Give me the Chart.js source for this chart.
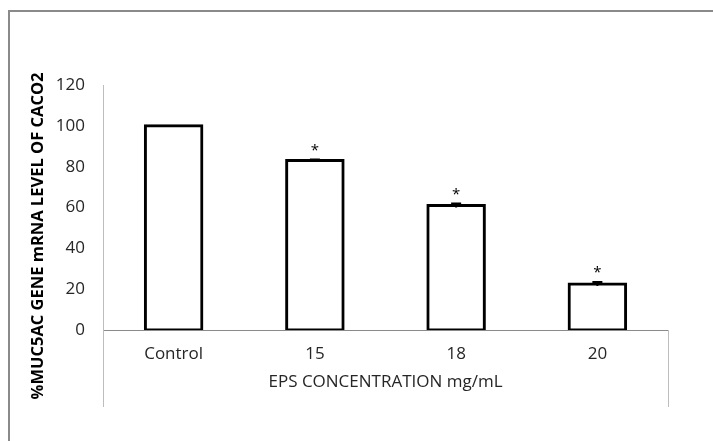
<!DOCTYPE html>
<html>
<head>
<meta charset="utf-8">
<script src="https://cdn.jsdelivr.net/npm/chart.js@4/dist/chart.umd.min.js"></script>
<style>
html,body{margin:0;padding:0;background:#fff;}
#wrap{width:713px;height:441px;position:relative;}
</style>
</head>
<body>
<div id="wrap"><canvas id="c" width="713" height="441"></canvas></div>
<script>
const categories = ['Control', '15', '18', '20'];
const values = [100, 83, 61, 22.5];
const errors = [0, 0.5, 1, 1];
const marks = ['', '*', '*', '*'];
const yTicks = [0, 20, 40, 60, 80, 100, 120];
const yTitle = '%MUC5AC GENE mRNA LEVEL OF CACO2';
const xTitle = 'EPS CONCENTRATION mg/mL';

const FONT = '"Open Sans", "Noto Sans", sans-serif';
const TEXT = '#262626';

const decor = {
  id: 'decor',
  beforeDraw(chart) {
    const ctx = chart.ctx;
    ctx.save();
    ctx.fillStyle = '#fff';
    ctx.fillRect(0, 0, chart.width, chart.height);
    ctx.strokeStyle = '#8a8a8a';
    ctx.lineWidth = 2;
    ctx.beginPath();
    ctx.moveTo(9, 441);
    ctx.lineTo(9, 11);
    ctx.lineTo(713, 11);
    ctx.stroke();
    ctx.restore();
  },
  afterDraw(chart) {
    const ctx = chart.ctx;
    const a = chart.chartArea;
    const xs = chart.scales.x;
    const ys = chart.scales.y;
    ctx.save();
    ctx.strokeStyle = '#bdbdbd';
    ctx.lineWidth = 1;
    ctx.beginPath();
    ctx.moveTo(Math.round(a.left) + 0.5, a.bottom);
    ctx.lineTo(Math.round(a.left) + 0.5, xs.bottom);
    ctx.moveTo(Math.round(a.right) + 0.5, a.bottom);
    ctx.lineTo(Math.round(a.right) + 0.5, xs.bottom);
    ctx.stroke();
    const meta = chart.getDatasetMeta(0);
    ctx.strokeStyle = '#000';
    ctx.lineWidth = 2;
    meta.data.forEach((bar, i) => {
      const e = errors[i];
      if (!e) return;
      const yt = ys.getPixelForValue(values[i] + e);
      const yb = ys.getPixelForValue(values[i] - e);
      ctx.beginPath();
      ctx.moveTo(bar.x, yt);
      ctx.lineTo(bar.x, yb);
      ctx.moveTo(bar.x - 5, yt);
      ctx.lineTo(bar.x + 5, yt);
      ctx.stroke();
    });
    ctx.fillStyle = '#000';
    ctx.font = '15px ' + FONT;
    ctx.textAlign = 'center';
    ctx.textBaseline = 'middle';
    meta.data.forEach((bar, i) => {
      if (!marks[i]) return;
      const y = ys.getPixelForValue(values[i] + errors[i]);
      ctx.fillText(marks[i], bar.x, y - 9);
    });
    ctx.save();
    ctx.translate(38, 236);
    ctx.rotate(-Math.PI / 2);
    ctx.font = 'bold 16.5px ' + FONT;
    ctx.fillStyle = '#000';
    ctx.textAlign = 'center';
    ctx.textBaseline = 'middle';
    ctx.fillText(yTitle, 0, 0);
    ctx.restore();
    ctx.restore();
  }
};

new Chart(document.getElementById('c'), {
  type: 'bar',
  data: {
    labels: categories,
    datasets: [{
      data: values,
      backgroundColor: '#ffffff',
      borderColor: '#000000',
      borderWidth: 3,
      borderSkipped: false,
      inflateAmount: 1.5,
      barPercentage: 0.4,
      categoryPercentage: 1.0
    }]
  },
  options: {
    responsive: false,
    animation: false,
    devicePixelRatio: 1,
    layout: { padding: { left: 0, right: 45, top: 85, bottom: 34 } },
    plugins: { legend: { display: false }, tooltip: { enabled: false } },
    scales: {
      x: {
        grid: { display: false, drawTicks: false },
        border: { display: true, color: '#8a8a8a', width: 1 },
        ticks: { padding: 14, color: TEXT, font: { family: FONT, size: 17 } },
        title: { display: true, text: xTitle, color: TEXT, font: { family: FONT, size: 17 }, padding: { top: 0, bottom: 15 } },
        afterFit(s) { s.height = 77; }
      },
      y: {
        min: 0, max: 120,
        afterBuildTicks(s) { s.ticks = yTicks.map(v => ({ value: v })); },
        grid: { display: false, drawTicks: false },
        border: { display: true, color: '#bdbdbd', width: 1 },
        ticks: { padding: 18, color: TEXT, font: { family: FONT, size: 17 } },
        afterFit(s) { s.width = 103; }
      }
    }
  },
  plugins: [decor]
});
</script>
</body>
</html>
